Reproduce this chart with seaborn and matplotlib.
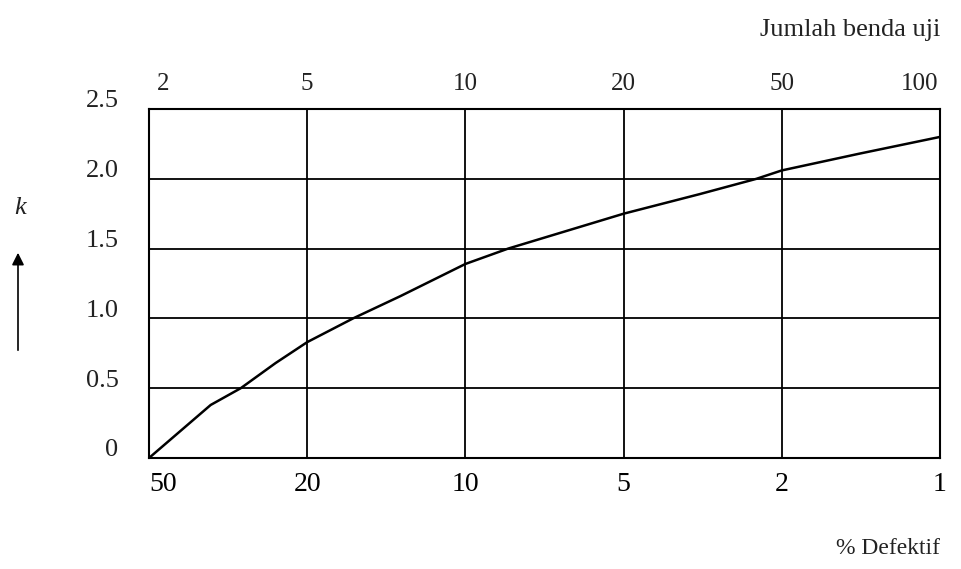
import matplotlib
matplotlib.use("Agg")
import matplotlib.pyplot as plt
import matplotlib.transforms as mtransforms
import seaborn as sns

# Data (x = position between the gridlines, 0..5)
pos = [0, 0.39, 0.58, 0.80, 1.0, 1.29, 1.59, 2.0, 2.27, 3.0, 3.48, 3.84, 4.0, 4.49, 5.0]
k_vals = [0, 0.38, 0.5, 0.68, 0.83, 1.0, 1.16, 1.39, 1.5, 1.75, 1.89, 2.0, 2.06, 2.18, 2.30]

top_labels = ["2", "5", "10", "20", "50", "100"]      # Jumlah benda uji
bottom_labels = ["50", "20", "10", "5", "2", "1"]     # % Defektif
y_ticks = [0, 0.5, 1.0, 1.5, 2.0, 2.5]
y_labels = ["0", "0.5", "1.0", "1.5", "2.0", "2.5"]

sns.set_style("white")
plt.rcParams['font.family'] = ['Liberation Serif', 'DejaVu Serif']

W, H = 962, 569
fig = plt.figure(figsize=(W / 100, H / 100), dpi=100)
ax = fig.add_axes([149 / W, 1 - 458 / H, (940 - 149) / W, (458 - 109) / H])

sns.lineplot(x=pos, y=k_vals, ax=ax, color='black', linewidth=1.8)

ax.set_xlim(0, 5)
ax.set_ylim(0, 2.5)
ax.set_xticks(range(6))
ax.set_yticks(y_ticks)
ax.grid(True, color='black', linewidth=1.3)
for s in ax.spines.values():
    s.set_color('black')
    s.set_linewidth(1.5)

ax.set_xticklabels(bottom_labels, fontsize=20, color='black')
ax.set_yticklabels(y_labels, fontsize=19, color='#222222')
ax.tick_params(axis='x', length=0, pad=10)
ax.tick_params(axis='y', length=0, pad=22)

# nudge y labels upward like the scan
for lbl in ax.get_yticklabels():
    lbl.set_transform(lbl.get_transform() + mtransforms.ScaledTranslation(0, 10 / 100, fig.dpi_scale_trans))
# first bottom label sits right of the gridline
first = ax.get_xticklabels()[0]
first.set_transform(first.get_transform() + mtransforms.ScaledTranslation(14 / 100, 0, fig.dpi_scale_trans))

top = ax.secondary_xaxis('top')
top.set_xticks(range(6))
top.set_xticklabels(top_labels, fontsize=18, color='#222222')
top.tick_params(length=0, pad=10)
tl = top.get_xticklabels()
tl[0].set_transform(tl[0].get_transform() + mtransforms.ScaledTranslation(14 / 100, 0, fig.dpi_scale_trans))
tl[-1].set_transform(tl[-1].get_transform() + mtransforms.ScaledTranslation(-20 / 100, 0, fig.dpi_scale_trans))
top.spines['top'].set_visible(False)

fig.text(940 / W, 1 - 30 / H, "Jumlah benda uji", ha='right', va='center', fontsize=19, color='#222222')
fig.text(940 / W, 1 - 548 / H, "% Defektif", ha='right', va='center', fontsize=17, color='#222222')
fig.text(20 / W, 1 - 208 / H, "k", ha='center', va='center', fontsize=19, style='italic', color='#222222')
fig.add_artist(matplotlib.patches.FancyArrowPatch(
    (18 / W, 1 - 353 / H), (18 / W, 1 - 250 / H), transform=fig.transFigure,
    arrowstyle='-|>', mutation_scale=18, color='black', linewidth=1.2))

fig.savefig('out.png', dpi=100)
